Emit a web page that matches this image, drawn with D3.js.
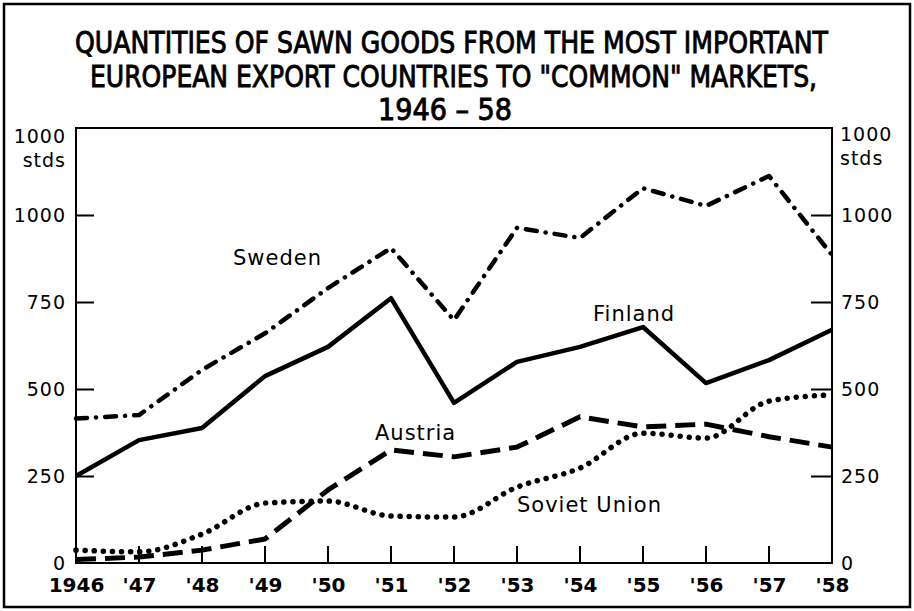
<!DOCTYPE html>
<html>
<head>
<meta charset="utf-8">
<script src="https://cdnjs.cloudflare.com/ajax/libs/d3/7.8.5/d3.min.js"></script>
<style>
  body { margin: 0; background: #fff; }
  svg { display: block; }
</style>
</head>
<body>
<div id="chart"></div>
<script>
// years and series (in 1000 stds)
var years = [1946, 1947, 1948, 1949, 1950, 1951, 1952, 1953, 1954, 1955, 1956, 1957, 1958];
var yearLabels = ["1946", "'47", "'48", "'49", "'50", "'51", "'52", "'53", "'54", "'55", "'56", "'57", "'58"];
var sweden  = [415, 425, 555, 660, 790, 905, 698, 963, 934, 1077, 1026, 1112, 885];
var finland = [250, 353, 388, 537, 621, 761, 460, 578, 621, 678, 517, 583, 670];
var austria = [10, 17, 37, 69, 210, 325, 305, 333, 420, 391, 399, 363, 333];
var soviet  = [37, 32, 83, 172, 178, 135, 132, 218, 273, 373, 359, 465, 483];
var yTicks = [0, 250, 500, 750, 1000];
var titleLines = ["QUANTITIES OF SAWN GOODS FROM THE MOST IMPORTANT",
                  "EUROPEAN EXPORT COUNTRIES TO \"COMMON\" MARKETS,",
                  "1946 \u2013 58"];

var w = 914, h = 611;
//plot box edges (don't use "top" as a global, it clashes with window.top)
var plotL = 76, plotR = 832, plotT = 128, plotB = 563;

var svg = d3.select("#chart").append("svg")
    .attr("width", w)
    .attr("height", h);

var x = d3.scaleLinear().domain([1946, 1958]).range([plotL, plotR]);
var y = d3.scaleLinear().domain([0, 1250]).range([plotB, plotT]);

//outer frame
svg.append("rect")
    .attr("x", 4).attr("y", 4)
    .attr("width", 906).attr("height", 603)
    .style("fill", "none").style("stroke", "#000").style("stroke-width", 2.5);

//title
var titleY = [53, 87, 120];
var titleX = [[75, 753], [90, 727], [378, 134]];
svg.selectAll(".title").data(titleLines).enter().append("text")
    .attr("class", "title")
    .attr("x", function (d, i) { return titleX[i][0]; })
    .attr("y", function (d, i) { return titleY[i]; })
    .attr("textLength", function (d, i) { return titleX[i][1]; })
    .attr("lengthAdjust", "spacingAndGlyphs")
    .style("font-family", "'DejaVu Sans Condensed', 'DejaVu Sans', sans-serif")
    .style("font-size", "31px")
    .style("fill", "#000")
    .style("stroke", "#000")
    .style("stroke-width", 0.9)
    .text(function (d) { return d; });

//plot box
svg.append("rect")
    .attr("x", plotL).attr("y", plotT)
    .attr("width", plotR - plotL).attr("height", plotB - plotT)
    .style("fill", "none").style("stroke", "#000").style("stroke-width", 2);

//x ticks (upward from the base line, not at the two ends)
svg.selectAll(".xtick").data(years.slice(1, -1)).enter().append("line")
    .attr("class", "xtick")
    .attr("x1", function (d) { return x(d); })
    .attr("x2", function (d) { return x(d); })
    .attr("y1", plotB)
    .attr("y2", plotB - 17)
    .style("stroke", "#000").style("stroke-width", 2);

//axes
var xAxis = d3.axisBottom(x)
    .tickValues(years)
    .tickSize(0)
    .tickPadding(15)
    .tickFormat(function (d, i) { return yearLabels[i]; });

var gx = svg.append("g")
    .attr("transform", "translate(0," + plotB + ")")
    .call(xAxis);

var yLeft = d3.axisLeft(y).tickValues(yTicks)
    .tickSizeInner(-18).tickSizeOuter(0).tickPadding(10)
    .tickFormat(d3.format("d"));
var gyl = svg.append("g")
    .attr("transform", "translate(" + plotL + ",0)")
    .call(yLeft);

var yRight = d3.axisRight(y).tickValues(yTicks)
    .tickSizeInner(-21).tickSizeOuter(0).tickPadding(9)
    .tickFormat(d3.format("d"));
var gyr = svg.append("g")
    .attr("transform", "translate(" + plotR + ",0)")
    .call(yRight);

[gx, gyl, gyr].forEach(function (g) {
    g.select(".domain").remove();
    g.selectAll("line").style("stroke", "#000").style("stroke-width", 2);
    g.selectAll("text")
        .style("font-family", "'DejaVu Sans', sans-serif")
        .style("fill", "#000");
});
gx.selectAll("line").remove();
gx.selectAll("text").style("font-size", "20px").style("font-weight", "bold");
gyl.selectAll("text").style("font-size", "19px").style("letter-spacing", "1px");
gyr.selectAll("text").style("font-size", "19px").style("letter-spacing", "1px");
gyl.selectAll(".tick").filter(function (d) { return d === 0; })
    .select("line").remove();
gyr.selectAll(".tick").filter(function (d) { return d === 0; })
    .select("line").remove();

//unit labels
var unitFont = "'DejaVu Sans', sans-serif";
[[66, "end"], [840, "start"]].forEach(function (p, i) {
    svg.append("text")
        .attr("x", p[0]).attr("y", i === 0 ? 143 : 141)
        .style("text-anchor", p[1])
        .style("font-family", unitFont).style("font-size", "19px")
        .style("letter-spacing", "1px")
        .text("1000");
    svg.append("text")
        .attr("x", p[0]).attr("y", i === 0 ? 167 : 165)
        .style("text-anchor", p[1])
        .style("font-family", unitFont).style("font-size", "19px")
        .style("letter-spacing", "1px")
        .text("stds");
});

//series
var series = [
    { name: "Sweden", values: sweden, dash: "11 9 0.1 9", cap: "round", width: 4.5, curve: d3.curveLinear },
    { name: "Finland", values: finland, dash: null, cap: "butt", width: 4.5, curve: d3.curveLinear },
    { name: "Austria", values: austria, dash: "20 9", cap: "butt", width: 5, curve: d3.curveLinear },
    { name: "Soviet Union", values: soviet, dash: "0.1 9", cap: "round", width: 5.5, curve: d3.curveMonotoneX }
];

series.forEach(function (s) {
    var line = d3.line()
        .x(function (d, i) { return x(years[i]); })
        .y(function (d) { return y(d); })
        .curve(s.curve);
    svg.append("path")
        .datum(s.values)
        .attr("d", line)
        .style("fill", "none")
        .style("stroke", "#000")
        .style("stroke-width", s.width)
        .style("stroke-linecap", s.cap)
        .style("stroke-linejoin", "round")
        .style("stroke-dasharray", s.dash);
});

//series labels
var labelPos = { "Sweden": [233, 265], "Finland": [593, 321], "Austria": [375, 440], "Soviet Union": [517, 512] };
series.forEach(function (s) {
    svg.append("text")
        .attr("x", labelPos[s.name][0])
        .attr("y", labelPos[s.name][1])
        .style("font-family", "'DejaVu Sans', sans-serif")
        .style("font-size", "21px")
        .style("letter-spacing", "1px")
        .style("fill", "#000")
        .text(s.name);
});
</script>
</body>
</html>
